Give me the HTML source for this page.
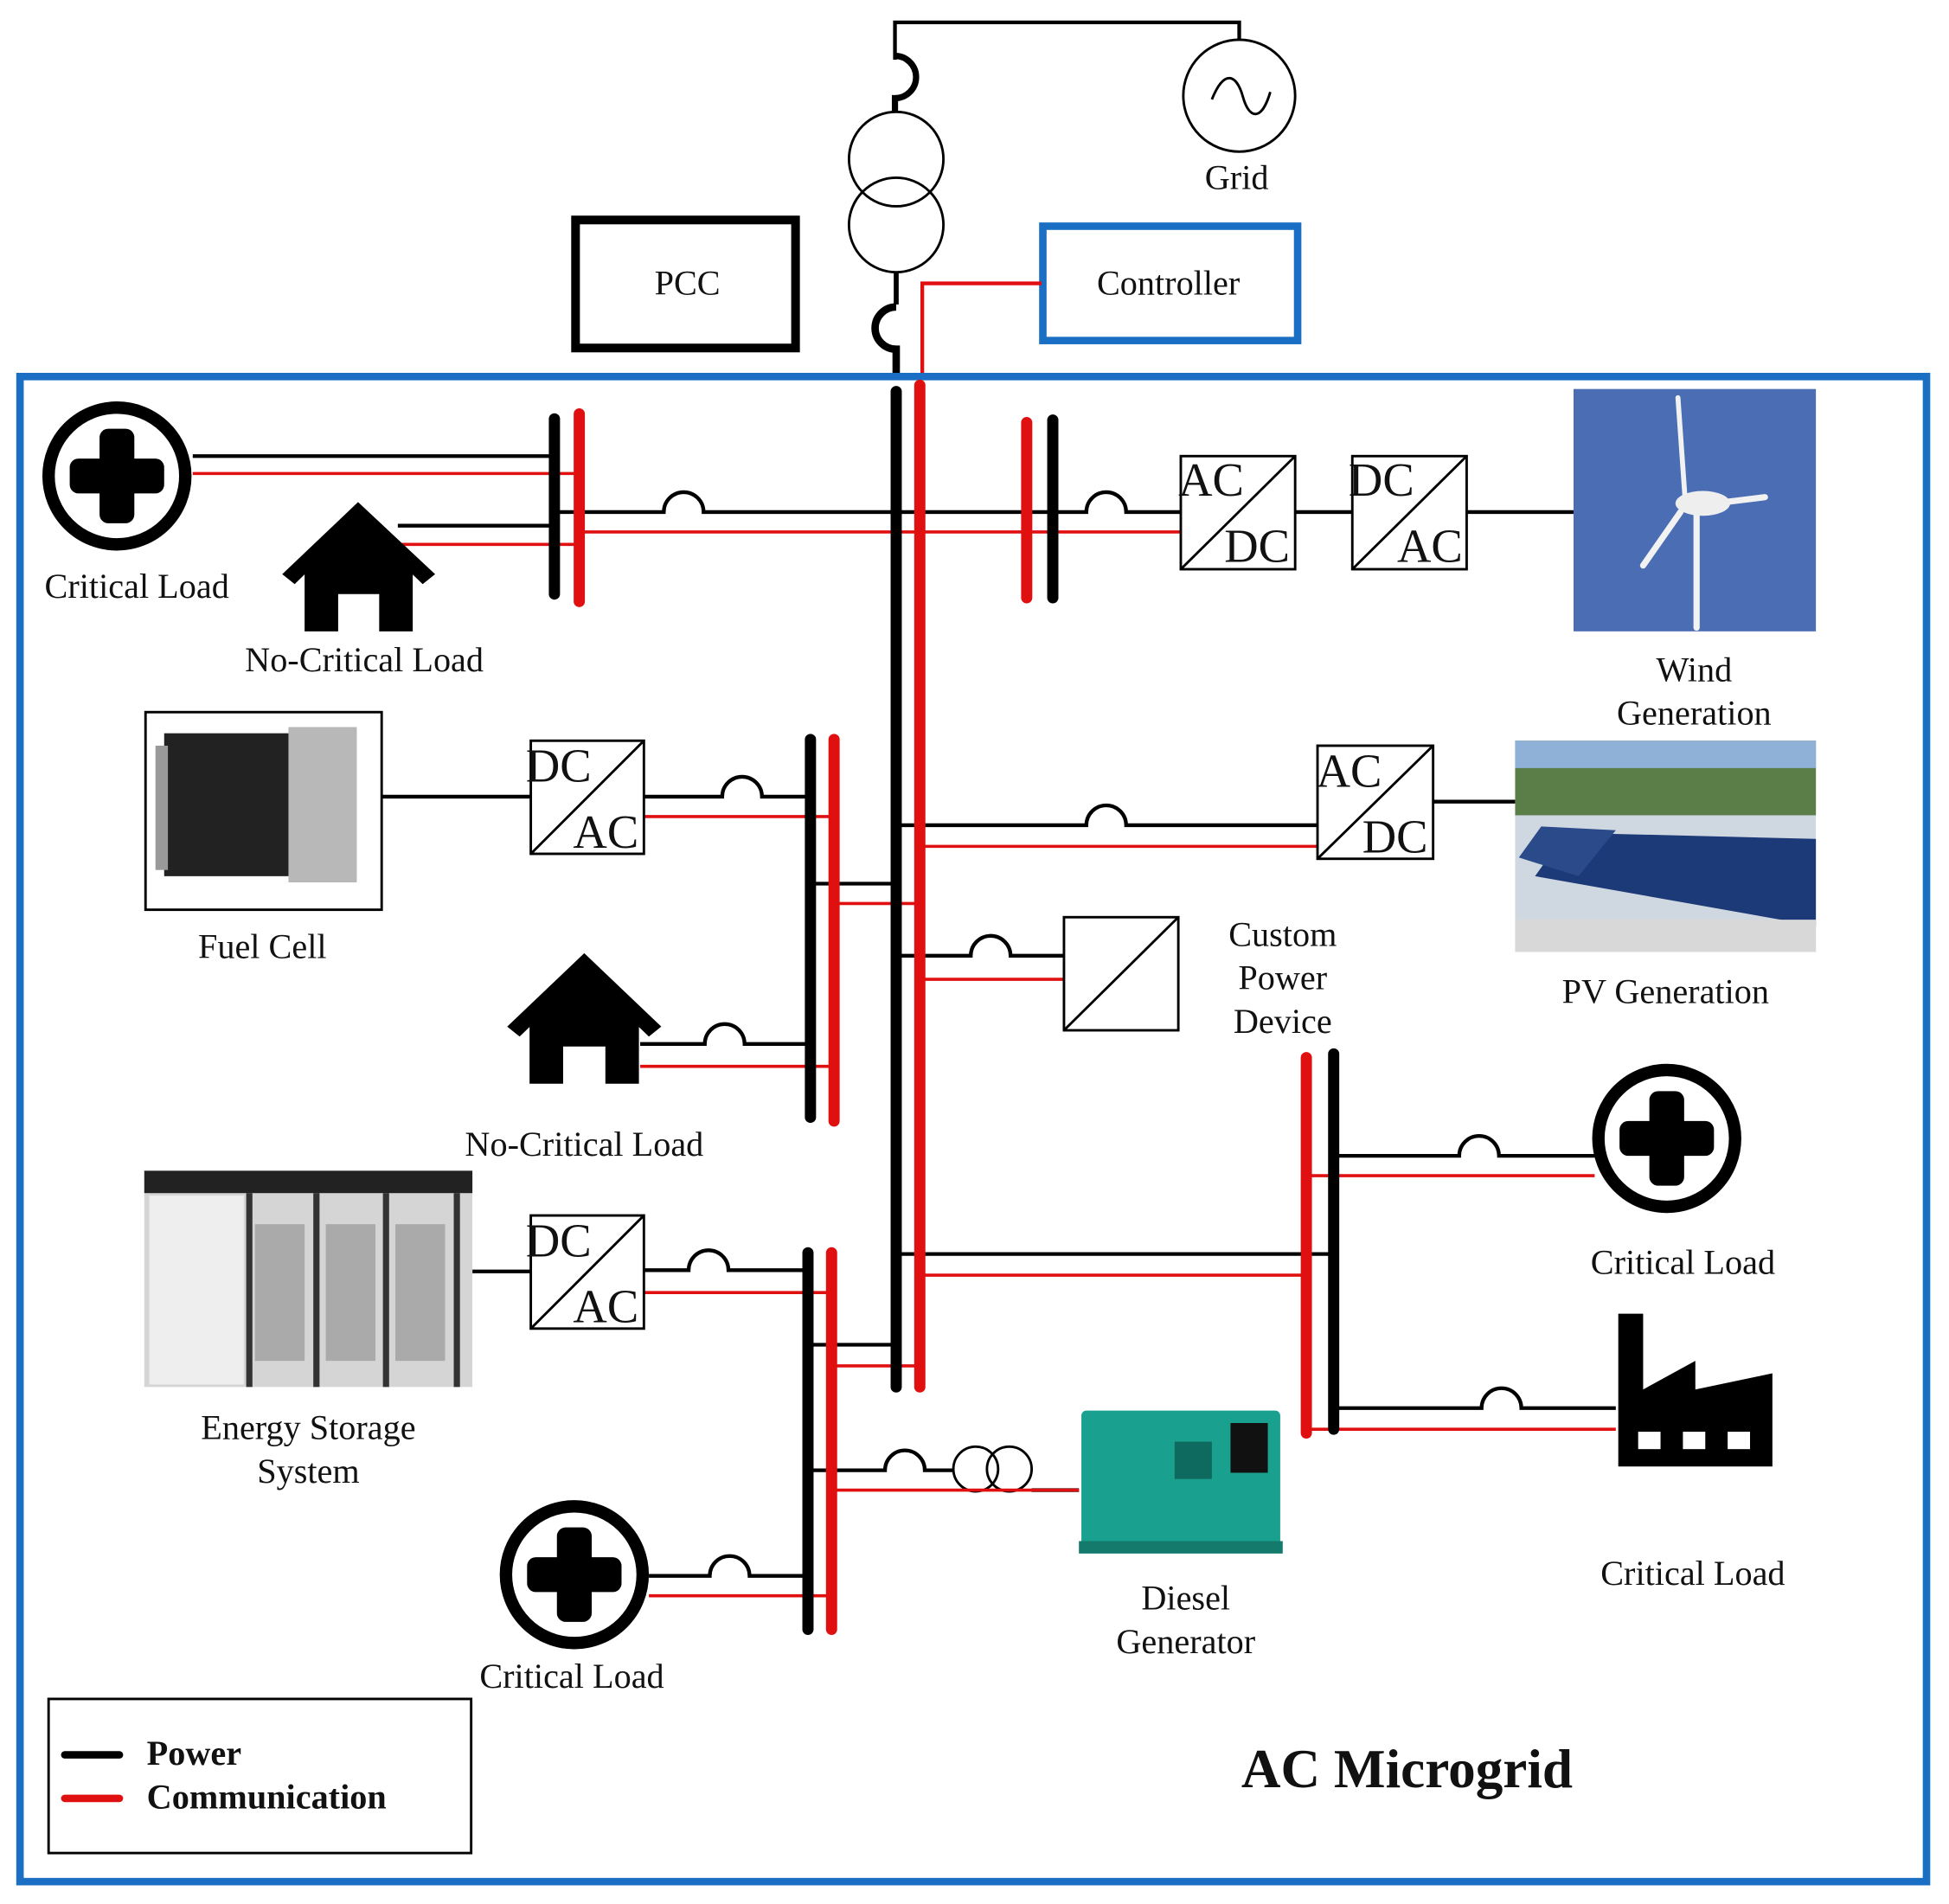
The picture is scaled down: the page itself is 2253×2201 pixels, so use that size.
<!DOCTYPE html>
<html><head><meta charset="utf-8"><style>
html,body{margin:0;padding:0;background:#fff;}
svg{display:block;}
text{font-family:"Liberation Serif",serif;font-size:28px;fill:#111;}
text.big{font-size:38px;}
</style></head><body>
<svg width="2253" height="2201" viewBox="0 0 1568 1532" xmlns="http://www.w3.org/2000/svg">
<rect width="1568" height="1532" fill="#fff"/>
<g fill="none" stroke="#000" stroke-width="3">
<path d="M720 48 V18 H997 V32"/>
<circle cx="997" cy="77" r="45" stroke-width="2"/>
<path d="M975 80 C985 55 995 60 1000 78 C1005 96 1015 98 1022 74" stroke-width="2"/>
<path d="M720 45 A17 17 0 0 1 720 79 V90" stroke-width="5"/>
<circle cx="721" cy="128" r="38" stroke-width="2"/>
<circle cx="721" cy="181" r="38" stroke-width="2"/>
<path d="M721 219 V245" stroke-width="4"/>
<path d="M721 247 A17 17 0 0 0 721 281 V300" stroke-width="6"/>
</g>
<rect x="463" y="177" width="177" height="103" fill="none" stroke="#000" stroke-width="7"/>
<text x="553" y="237" text-anchor="middle">PCC</text>
<rect x="839" y="182" width="205" height="92" fill="none" stroke="#1a6fc4" stroke-width="6"/>
<text x="940" y="237" text-anchor="middle">Controller</text>
<text x="995" y="152" text-anchor="middle">Grid</text>
<path d="M838 228 H742 V305" stroke="#e01010" stroke-width="3" fill="none"/>
<rect x="16" y="303" width="1534" height="1211" fill="none" stroke="#1a6fc4" stroke-width="6"/>

<g fill="none" stroke="#000" stroke-width="3">
<path d="M155 367 H445"/>
<path d="M320 423 H445"/>
<path d="M446 412 H534 A16 16 0 0 1 566 412 H720"/>
<path d="M720 412 H874 A16 16 0 0 1 906 412 H950"/>
<path d="M1042 412 H1088"/>
<path d="M1180 412 H1266"/>
<path d="M307 641 H427"/>
<path d="M518 641 H581 A16 16 0 0 1 613 641 H652"/>
<path d="M652 711 H720"/>
<path d="M515 840 H567 A16 16 0 0 1 599 840 H652"/>
<path d="M720 664 H874 A16 16 0 0 1 906 664 H1060"/>
<path d="M1153 645 H1219"/>
<path d="M720 769 H781 A16 16 0 0 1 813 769 H856"/>
<path d="M720 1009 H1073"/>
<path d="M1073 930 H1174 A16 16 0 0 1 1206 930 H1283"/>
<path d="M1073 1133 H1192 A16 16 0 0 1 1224 1133 H1300"/>
<path d="M380 1023 H427"/>
<path d="M518 1022 H554 A16 16 0 0 1 586 1022 H650"/>
<path d="M650 1082 H720"/>
<path d="M650 1183 H712 A16 16 0 0 1 744 1183 H767"/>
<path d="M830 1199 H868" />
<path d="M522 1268 H571 A16 16 0 0 1 603 1268 H650"/>
<circle cx="785" cy="1182" r="18" stroke-width="2"/>
<circle cx="812" cy="1182" r="18" stroke-width="2"/>
</g>
<g fill="none" stroke="#e01010" stroke-width="2.5">
<path d="M155 381 H465"/>
<path d="M320 438 H465"/>
<path d="M466 428 H950"/>
<path d="M518 657 H670"/>
<path d="M671 727 H740"/>
<path d="M515 858 H670"/>
<path d="M740 681 H1060"/>
<path d="M740 788 H856"/>
<path d="M740 1026 H1051"/>
<path d="M1051 946 H1283"/>
<path d="M1051 1150 H1300"/>
<path d="M518 1040 H668"/>
<path d="M669 1099 H740"/>
<path d="M669 1199 H868"/>
<path d="M522 1284 H668"/>
</g>
<g stroke-linecap="round" stroke-width="9">
<path d="M721 315 V1116" stroke="#000"/>
<path d="M740 310 V1116" stroke="#e01010"/>
<path d="M446 337 V478" stroke="#000"/>
<path d="M466 333 V484" stroke="#e01010"/>
<path d="M826 340 V481" stroke="#e01010"/>
<path d="M847 338 V481" stroke="#000"/>
<path d="M652 595 V899" stroke="#000"/>
<path d="M671 595 V902" stroke="#e01010"/>
<path d="M1051 851 V1153" stroke="#e01010"/>
<path d="M1073 848 V1150" stroke="#000"/>
<path d="M650 1008 V1311" stroke="#000"/>
<path d="M669 1008 V1311" stroke="#e01010"/>
</g>
<g fill="#fff" stroke="#000" stroke-width="2">
<rect x="950" y="367" width="92" height="91"/><path d="M950 458 L1042 367"/>
<rect x="1088" y="367" width="92" height="91"/><path d="M1088 458 L1180 367"/>
<rect x="427" y="596" width="91" height="91"/><path d="M427 687 L518 596"/>
<rect x="1060" y="600" width="93" height="91"/><path d="M1060 691 L1153 600"/>
<rect x="856" y="738" width="92" height="91"/><path d="M856 829 L948 738"/>
<rect x="427" y="978" width="91" height="91"/><path d="M427 1069 L518 978"/>
</g>
<text class="big" x="948" y="399">AC</text><text class="big" x="985" y="452">DC</text>
<text class="big" x="1085" y="399">DC</text><text class="big" x="1124" y="452">AC</text>
<text class="big" x="423" y="629">DC</text><text class="big" x="461" y="682">AC</text>
<text class="big" x="1059" y="633">AC</text><text class="big" x="1096" y="686">DC</text>
<text class="big" x="423" y="1011">DC</text><text class="big" x="461" y="1064">AC</text>
<g>
<circle cx="94" cy="383" r="55" fill="none" stroke="#000" stroke-width="10"/>
<rect x="80" y="345" width="28" height="76" rx="7"/><rect x="56" y="369" width="76" height="28" rx="7"/>
<circle cx="1341" cy="916" r="55" fill="none" stroke="#000" stroke-width="10"/>
<rect x="1327" y="878" width="28" height="76" rx="7"/><rect x="1303" y="902" width="76" height="28" rx="7"/>
<circle cx="462" cy="1267" r="55" fill="none" stroke="#000" stroke-width="10"/>
<rect x="448" y="1229" width="28" height="76" rx="7"/><rect x="424" y="1253" width="76" height="28" rx="7"/>
</g>
<g>
<path d="M227 462 L288 404 L350 462 L340 470 L288 420 L237 470 Z"/>
<path d="M245 459 L288 418 L332 459 V508 H305 V478 H272 V508 H245 Z"/>
<path d="M408 826 L470 767 L532 826 L522 834 L470 784 L418 834 Z"/>
<path d="M426 823 L470 781 L514 823 V872 H487 V842 H453 V872 H426 Z"/>
</g>
<path d="M1302 1180 V1057 H1322 V1118 L1364 1095 V1118 L1426 1105 V1180 Z"/>
<g fill="#fff"><rect x="1318" y="1152" width="18" height="14"/><rect x="1354" y="1152" width="18" height="14"/><rect x="1390" y="1152" width="18" height="14"/></g>
<rect x="1266" y="313" width="195" height="195" fill="#4b6db4"/>
<g stroke="#f2f2f2" fill="none" stroke-linecap="round">
<path d="M1365 410 V505" stroke-width="5"/>
<path d="M1356 405 L1350 320" stroke-width="4"/>
<path d="M1352 412 L1322 455" stroke-width="5"/>
<path d="M1380 405 L1420 400" stroke-width="5"/>
</g>
<ellipse cx="1370" cy="405" rx="22" ry="10" fill="#eee"/>
<rect x="117" y="573" width="190" height="159" fill="#fff" stroke="#000" stroke-width="2"/>
<rect x="132" y="590" width="110" height="115" fill="#222"/>
<rect x="232" y="585" width="55" height="125" fill="#b8b8b8"/>
<rect x="125" y="600" width="10" height="100" fill="#999"/>
<rect x="1219" y="596" width="242" height="170" fill="#cfd8e0"/>
<rect x="1219" y="596" width="242" height="60" fill="#5b7d48"/>
<rect x="1219" y="596" width="242" height="22" fill="#8fb1d8"/>
<path d="M1235 705 L1260 670 L1461 675 L1461 745 Z" fill="#1d3a78"/>
<path d="M1222 690 L1240 665 L1300 668 L1270 705 Z" fill="#2a4a8a"/>
<rect x="1219" y="740" width="242" height="26" fill="#d8d8d8"/>
<rect x="116" y="942" width="264" height="174" fill="#d5d5d5"/>
<rect x="116" y="942" width="264" height="18" fill="#222"/>
<rect x="120" y="962" width="76" height="152" fill="#eee"/>
<g fill="#aaa"><rect x="205" y="985" width="40" height="110"/><rect x="262" y="985" width="40" height="110"/><rect x="318" y="985" width="40" height="110"/></g>
<g fill="#333"><rect x="198" y="960" width="5" height="156"/><rect x="252" y="960" width="5" height="156"/><rect x="308" y="960" width="5" height="156"/><rect x="365" y="960" width="5" height="156"/></g>
<rect x="870" y="1135" width="160" height="110" rx="4" fill="#1aa08e"/>
<rect x="868" y="1240" width="164" height="10" fill="#137a6c"/>
<rect x="990" y="1145" width="30" height="40" fill="#111"/>
<rect x="945" y="1160" width="30" height="30" fill="#0e6a5e"/>
<text x="110" y="481" text-anchor="middle">Critical Load</text>
<text x="293" y="540" text-anchor="middle">No-Critical Load</text>
<text x="1363" y="548" text-anchor="middle">Wind</text>
<text x="1363" y="583" text-anchor="middle">Generation</text>
<text x="211" y="771" text-anchor="middle">Fuel Cell</text>
<text x="1340" y="807" text-anchor="middle">PV Generation</text>
<text x="1032" y="761" text-anchor="middle">Custom</text>
<text x="1032" y="796" text-anchor="middle">Power</text>
<text x="1032" y="831" text-anchor="middle">Device</text>
<text x="470" y="930" text-anchor="middle">No-Critical Load</text>
<text x="1354" y="1025" text-anchor="middle">Critical Load</text>
<text x="248" y="1158" text-anchor="middle">Energy Storage</text>
<text x="248" y="1193" text-anchor="middle">System</text>
<text x="1362" y="1275" text-anchor="middle">Critical Load</text>
<text x="954" y="1295" text-anchor="middle">Diesel</text>
<text x="954" y="1330" text-anchor="middle">Generator</text>
<text x="460" y="1358" text-anchor="middle">Critical Load</text>
<rect x="39" y="1367" width="340" height="124" fill="none" stroke="#000" stroke-width="2"/>
<path d="M52 1412 H96" stroke="#000" stroke-width="6" stroke-linecap="round"/>
<path d="M52 1447 H96" stroke="#e01010" stroke-width="6" stroke-linecap="round"/>
<text x="118" y="1420" font-weight="bold">Power</text>
<text x="118" y="1455" font-weight="bold">Communication</text>
<text x="1132" y="1438" text-anchor="middle" font-weight="bold" style="font-size:44px">AC Microgrid</text>
</svg>
</body></html>
